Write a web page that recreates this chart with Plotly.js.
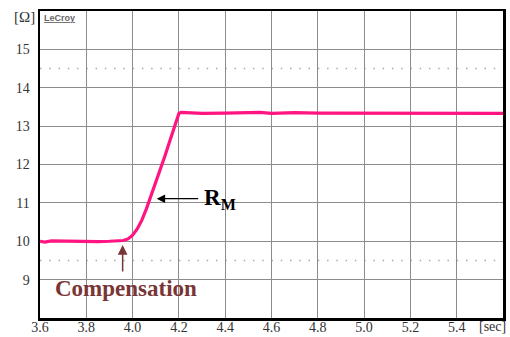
<!DOCTYPE html>
<html>
<head>
<meta charset="utf-8">
<script src="https://cdn.plot.ly/plotly-3.0.1.min.js"></script>
<style>html,body{margin:0;padding:0;background:#fff;}#chart{width:510px;height:337px;}</style>
</head>
<body>
<div id="chart"></div>
<script>
// Time axis (sec) and resistance (Ohm)
const timeSec = [3.60,3.62,3.65,3.70,3.75,3.80,3.85,3.90,3.94,3.96,3.98,4.00,4.02,4.04,4.06,4.08,4.10,4.12,4.14,4.16,4.18,4.20,4.21,4.25,4.30,4.40,4.50,4.55,4.60,4.65,4.70,4.80,4.90,5.00,5.10,5.20,5.30,5.40,5.50,5.60];
const ohms    = [10.00,9.98,10.01,10.00,9.99,10.00,9.99,10.00,10.00,10.02,10.06,10.16,10.32,10.55,10.85,11.18,11.53,11.88,12.23,12.60,12.97,13.33,13.36,13.34,13.33,13.34,13.35,13.36,13.33,13.34,13.35,13.34,13.34,13.33,13.34,13.34,13.33,13.34,13.33,13.33];

const xTickVals = [3.6,3.8,4.0,4.2,4.4,4.6,4.8,5.0,5.2,5.4];
const xTickText = ["3.6","3.8","4.0","4.2","4.4","4.6","4.8","5.0","5.2","5.4"];
const yTickVals = [9,10,11,12,13,14,15];
const yTickText = ["9","10","11","12","13","14","15"];

const serif = "Liberation Serif";
const W = 463, H = 307, L = 40, T = 11;
const px = p => (p - L) / W;
const py = p => (T + H - p) / H;

const trace = {
  x: timeSec, y: ohms, type: "scatter", mode: "lines",
  line: {color: "#ff1482", width: 3.2},
  hoverinfo: "skip", showlegend: false
};

const layout = {
  width: 510, height: 337,
  margin: {l: 40, r: 7, t: 11, b: 19, pad: 0},
  paper_bgcolor: "#fff", plot_bgcolor: "#fff",
  showlegend: false,
  xaxis: {
    range: [3.6, 5.6], tickvals: xTickVals, ticktext: xTickText,
    showgrid: true, gridcolor: "#8c8c8c", gridwidth: 1,
    showline: true, mirror: true, linecolor: "#000", linewidth: 2.5,
    ticks: "", zeroline: false, ticklabelstandoff: -5,
    tickfont: {family: serif, size: 14, color: "#333"}
  },
  yaxis: {
    range: [8, 16], tickvals: yTickVals, ticktext: yTickText,
    showgrid: true, gridcolor: "#8c8c8c", gridwidth: 1,
    showline: true, mirror: true, linecolor: "#000", linewidth: 2.5,
    ticks: "", zeroline: false, ticklabelstandoff: 5,
    tickfont: {family: serif, size: 14, color: "#333"}
  },
  xaxis2: {overlaying: "x", anchor: "free", position: 0.5, range: [3.6, 5.6],
    tick0: 3.6, dtick: 0.04, ticks: "outside", ticklen: 3, tickwidth: 1, tickcolor: "#8c8c8c",
    showticklabels: false, showgrid: false, zeroline: false, showline: false},
  xaxis3: {overlaying: "x", anchor: "free", position: 0.5, range: [3.6, 5.6],
    tick0: 3.6, dtick: 0.04, ticks: "inside", ticklen: 3, tickwidth: 1, tickcolor: "#8c8c8c",
    showticklabels: false, showgrid: false, zeroline: false, showline: false},
  yaxis2: {overlaying: "y", anchor: "free", position: 0.5, range: [8, 16],
    tick0: 8, dtick: 0.2, ticks: "outside", ticklen: 3.5, tickwidth: 1, tickcolor: "#8c8c8c",
    showticklabels: false, showgrid: false, zeroline: false, showline: false},
  yaxis3: {overlaying: "y", anchor: "free", position: 0.5, range: [8, 16],
    tick0: 8, dtick: 0.2, ticks: "inside", ticklen: 3.5, tickwidth: 1, tickcolor: "#8c8c8c",
    showticklabels: false, showgrid: false, zeroline: false, showline: false},
  shapes: [
    {type: "line", xref: "x", yref: "y", x0: 3.6, x1: 5.6, y0: 14.5, y1: 14.5, layer: "below",
     line: {color: "#aaaaaa", width: 1.5, dash: "1.5px,7.76px"}},
    {type: "line", xref: "x", yref: "y", x0: 3.6, x1: 5.6, y0: 9.5, y1: 9.5, layer: "below",
     line: {color: "#aaaaaa", width: 1.5, dash: "1.5px,7.76px"}}
  ],
  annotations: [
    {xref: "paper", yref: "paper", x: px(24.5), y: py(17), text: "[Ω]", showarrow: false,
     xanchor: "center", yanchor: "middle", font: {family: serif, size: 15, color: "#333"}},
    {xref: "paper", yref: "paper", x: px(42), y: py(18), text: "<u><b>LeCroy</b></u>", showarrow: false,
     xanchor: "left", yanchor: "middle", font: {family: "Liberation Sans", size: 9, color: "#666"}},
    {xref: "paper", yref: "paper", x: px(492), y: py(326), text: "[sec]", showarrow: false,
     xanchor: "center", yanchor: "middle", font: {family: serif, size: 14, color: "#333"}},
    // R_M arrow
    {xref: "x", yref: "y", x: 4.104, y: 11.11, text: "", showarrow: true, ax: 43, ay: 0,
     arrowhead: 2, arrowsize: 1.3, arrowwidth: 1.3, arrowcolor: "#000"},
    {xref: "paper", yref: "paper", x: px(202), y: py(199), text: "<b>R<sub>M</sub></b>", showarrow: false,
     xanchor: "left", yanchor: "middle", font: {family: serif, size: 23, color: "#000"}},
    // Compensation arrow
    {xref: "x", yref: "y", x: 3.957, y: 9.9, text: "", showarrow: true, ax: 0, ay: 28,
     arrowhead: 2, arrowsize: 1.3, arrowwidth: 1.5, arrowcolor: "#7a3535"},
    {xref: "paper", yref: "paper", x: px(125.5), y: py(288), text: "<b>Compensation</b>", showarrow: false,
     xanchor: "center", yanchor: "middle", font: {family: serif, size: 23, color: "#7a3535"}}
  ]
};

Plotly.newPlot("chart", [trace], layout, {staticPlot: true, displayModeBar: false});
</script>
</body>
</html>
